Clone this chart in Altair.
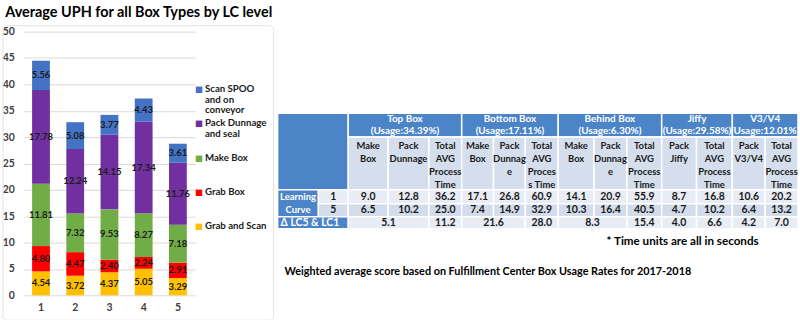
import altair as alt
import pandas as pd

# ---------------- data: stacked bars ----------------
levels = ["1", "2", "3", "4", "5"]
series = ["Grab and Scan", "Grab Box", "Make Box", "Pack Dunnage and seal", "Scan SPOO and on conveyor"]
grab_and_scan = [4.54, 3.72, 4.37, 5.05, 3.29]
grab_box = [4.80, 4.47, 2.40, 2.24, 2.91]
make_box = [11.81, 7.32, 9.53, 8.27, 7.18]
pack_dunnage = [17.78, 12.24, 14.15, 17.34, 11.76]
scan_spoo = [5.56, 5.08, 3.77, 4.43, 3.61]
series_values = [grab_and_scan, grab_box, make_box, pack_dunnage, scan_spoo]
series_colors = ["#FFC000", "#FF0000", "#70AD47", "#7030A0", "#4472C4"]
legend_lines = [["Grab and Scan"], ["Grab Box"], ["Make Box"],
                ["Pack Dunnage", "and seal"], ["Scan SPOO", "and on", "conveyor"]]
chart_title = "Average UPH for all Box Types by LC level"

# ---------------- data: table ----------------
box_types = ["Top Box", "Bottom Box", "Behind Box", "Jiffy", "V3/V4"]
usage = ["34.39%", "17.11%", "6.30%", "29.58%", "12.01%"]
sub_per_box = [3, 3, 3, 2, 2]
sub_headers = [["Make", "Box"], ["Pack", "Dunnage"], ["Total", "AVG", "Process", "Time"],
               ["Make", "Box"], ["Pack", "Dunnag", "e"], ["Total", "AVG", "Proces", "s Time"],
               ["Make", "Box"], ["Pack", "Dunnag", "e"], ["Total", "AVG", "Process", "Time"],
               ["Pack", "Jiffy"], ["Total", "AVG", "Process", "Time"],
               ["Pack", "V3/V4"], ["Total", "AVG", "Process", "Time"]]
row_label = ["Learning", "Curve"]
lc_levels = ["1", "5"]
lc1 = [9.0, 12.8, 36.2, 17.1, 26.8, 60.9, 14.1, 20.9, 55.9, 8.7, 16.8, 10.6, 20.2]
lc5 = [6.5, 10.2, 25.0, 7.4, 14.9, 32.9, 10.3, 16.4, 40.5, 4.7, 10.2, 6.4, 13.2]
delta_label = "Δ LC5 & LC1"
delta_values = ["5.1", "11.2", "21.6", "28.0", "8.3", "15.4", "4.0", "6.6", "4.2", "7.0"]
delta_spans = [2, 1, 2, 1, 2, 1, 1, 1, 1, 1]
note_units = "* Time units are all in seconds"
note_weighted = "Weighted average score based on Fulfillment Center Box Usage Rates for 2017-2018"

# ---------------- layout / style (not data) ----------------
FONT = "Lato"
BLUE = "#4C84C8"
HEAD_LIGHT = "#D5DEEC"
ROW_A = "#E8EDF5"
ROW_B = "#D3DCEA"
TXT = "#1A1A1A"
ORIGIN_Y = 30          # page y of the plot tops (both panels share it)
TABLE_X0 = 277
COL_EDGES = [277, 318, 348, 388, 429, 462, 494, 526, 559, 595, 628, 663, 698, 734, 767, 800]
ROW_EDGES = [112, 136, 189, 203, 216, 228]
W_R = 523
H_R = 290
HEAD_LH = 12.3
LC_LH = 13

# ---------------- bar chart ----------------
bar_rows = []
for rank, (name, vals) in enumerate(zip(series, series_values)):
    for lv, v in zip(levels, vals):
        bar_rows.append({"level": lv, "series": name, "value": v, "rank": rank})
bars_df = pd.DataFrame(bar_rows)

color_scale = alt.Scale(domain=series, range=series_colors)
x_enc = alt.X("level:N", sort=levels,
              scale=alt.Scale(paddingInner=0.48, paddingOuter=0.24),
              axis=alt.Axis(title=None, labelAngle=0, ticks=False, domain=False,
                            labelFont=FONT, labelFontSize=10.5, labelFontWeight="bold",
                            labelColor="#404040", labelPadding=7))
y_scale = alt.Scale(domain=[0, 50], nice=False)

bars = alt.Chart(bars_df).mark_bar().encode(
    x=x_enc,
    y=alt.Y("value:Q", stack="zero", scale=y_scale,
            axis=alt.Axis(title=None, values=list(range(0, 51, 5)), ticks=False, domain=False,
                          gridColor="#D9D9D9", labelFont=FONT, labelFontSize=10.5,
                          labelFontWeight="bold", labelColor="#404040", labelPadding=9.5)),
    color=alt.Color("series:N", scale=color_scale, legend=None),
    order=alt.Order("rank:Q"),
)

bar_labels = alt.Chart(bars_df).transform_stack(
    stack="value", groupby=["level"], sort=[alt.SortField("rank")], as_=["y0", "y1"]
).transform_calculate(mid="(datum.y0 + datum.y1) / 2").mark_text(
    font=FONT, fontSize=9.5, fontWeight="bold", color=TXT
).encode(
    x=alt.X("level:N", sort=levels),
    y=alt.Y("mid:Q", scale=y_scale, axis=None),
    text=alt.Text("value:Q", format=".2f"),
)

legend_rows = []
for rank, (name, lines) in enumerate(zip(series, legend_lines)):
    legend_rows.append({"series": name, "label": "\n".join(lines), "sym": "■", "rank": rank})
legend_df = pd.DataFrame(legend_rows)
legend_order = series[::-1]
# point scale places the first line of each legend entry
legend_y = alt.Y("series:N", scale=alt.Scale(type="point", domain=legend_order, range=[58, 195], padding=0),
                 axis=None)

legend_sym = alt.Chart(legend_df).mark_text(
    font="DejaVu Sans", fontSize=8.5, baseline="middle", align="center"
).encode(
    x=alt.value(176), y=legend_y,
    color=alt.Color("series:N", scale=color_scale, legend=None),
    text="sym:N",
)
legend_txt = alt.Chart(legend_df).mark_text(
    font=FONT, fontSize=9.7, fontWeight="bold", lineBreak="\n", lineHeight=10.6,
    baseline="middle", align="left", color=TXT
).encode(x=alt.value(182), y=legend_y, text="label:N")

frame = alt.Chart(pd.DataFrame({"k": [0]})).mark_rect(
    fill="transparent", stroke="#E3E3E3", strokeWidth=1, cornerRadius=4
).encode(x=alt.value(-21), x2=alt.value(251), y=alt.value(-6), y2=alt.value(290))

left = alt.layer(frame, bars, bar_labels, legend_sym, legend_txt).resolve_scale(
    y="independent"
).properties(
    width=172, height=265,
    title=alt.TitleParams(text=chart_title, anchor="start", frame="bounds", font=FONT, fontSize=14.5,
                          fontWeight="bold", color="black", dx=3, offset=5),
)

# ---------------- table ----------------
def cx(c0, c1):
    return (COL_EDGES[c0] + COL_EDGES[c1]) / 2 - TABLE_X0

def ry(r):
    return ROW_EDGES[r] - ORIGIN_Y

cells = []
def add_cell(c0, c1, r0, r1, fill):
    cells.append({"x0": COL_EDGES[c0] - TABLE_X0, "x1": COL_EDGES[c1] - TABLE_X0,
                  "y0": ry(r0), "y1": ry(r1), "fill": fill})

texts_head = []   # white bold, two lines (first-line position given)
texts_sub = []    # dark multi-line, top
texts_data = []   # single line, middle

add_cell(0, 2, 0, 2, BLUE)
c = 2
for name, u, n in zip(box_types, usage, sub_per_box):
    add_cell(c, c + n, 0, 1, BLUE)
    texts_head.append({"x": cx(c, c + n), "y": (ry(0) + ry(1)) / 2 - 0.5 - HEAD_LH / 2,
                       "t": name + "\n(Usage:" + u + ")"})
    c += n
for i, lines in enumerate(sub_headers):
    add_cell(2 + i, 3 + i, 1, 2, HEAD_LIGHT)
    texts_sub.append({"x": cx(2 + i, 3 + i), "y": ry(1) + 3.5, "t": "\n".join(lines)})

add_cell(0, 1, 2, 4, BLUE)
lc_label_df = pd.DataFrame([{"x": cx(0, 1), "y": (ry(2) + ry(4)) / 2 - LC_LH / 2,
                             "t": "\n".join(row_label)}])
for r, (lv, vals, fill) in enumerate(zip(lc_levels, [lc1, lc5], [ROW_A, ROW_B])):
    add_cell(1, 2, 2 + r, 3 + r, fill)
    texts_data.append({"x": cx(1, 2), "y": (ry(2 + r) + ry(3 + r)) / 2, "t": lv, "col": TXT})
    for i, v in enumerate(vals):
        add_cell(2 + i, 3 + i, 2 + r, 3 + r, fill)
        texts_data.append({"x": cx(2 + i, 3 + i), "y": (ry(2 + r) + ry(3 + r)) / 2,
                           "t": f"{v:.1f}", "col": TXT})

add_cell(0, 2, 4, 5, BLUE)
texts_data.append({"x": cx(0, 2) - 3, "y": (ry(4) + ry(5)) / 2, "t": delta_label, "col": "white"})
c = 2
for v, s in zip(delta_values, delta_spans):
    add_cell(c, c + s, 4, 5, ROW_A)
    texts_data.append({"x": cx(c, c + s), "y": (ry(4) + ry(5)) / 2, "t": v, "col": TXT})
    c += s

xs = alt.Scale(domain=[0, W_R], nice=False, zero=False)
ys = alt.Scale(domain=[0, H_R], nice=False, zero=False, reverse=True)
X = lambda f: alt.X(f, scale=xs, axis=None)
Y = lambda f: alt.Y(f, scale=ys, axis=None)

rects = alt.Chart(pd.DataFrame(cells)).mark_rect(stroke="white", strokeWidth=1.5).encode(
    x=X("x0:Q"), x2="x1:Q", y=Y("y0:Q"), y2="y1:Q", fill=alt.Fill("fill:N", scale=None))

head_txt = alt.Chart(pd.DataFrame(texts_head)).mark_text(
    font=FONT, fontWeight="bold", fontSize=10, lineBreak="\n", lineHeight=HEAD_LH,
    baseline="middle", align="center", color="white"
).encode(x=X("x:Q"), y=Y("y:Q"), text="t:N")

lc_txt = alt.Chart(lc_label_df).mark_text(
    font=FONT, fontWeight="bold", fontSize=9.5, lineBreak="\n", lineHeight=LC_LH,
    baseline="middle", align="center", color="white"
).encode(x=X("x:Q"), y=Y("y:Q"), text="t:N")

sub_txt = alt.Chart(pd.DataFrame(texts_sub)).mark_text(
    font=FONT, fontWeight="bold", fontSize=9.5, lineBreak="\n", lineHeight=13.3, baseline="top",
    align="center", color=TXT
).encode(x=X("x:Q"), y=Y("y:Q"), text="t:N")

data_txt = alt.Chart(pd.DataFrame(texts_data)).mark_text(
    font=FONT, fontWeight="bold", fontSize=10.5, baseline="middle", align="center"
).encode(x=X("x:Q"), y=Y("y:Q"), text="t:N", color=alt.Color("col:N", scale=None))

notes_df = pd.DataFrame([
    {"x": 407, "y": 240 - ORIGIN_Y, "t": note_units, "fs": 11.7, "al": "c"},
    {"x": 7, "y": 272 - ORIGIN_Y, "t": note_weighted, "fs": 10.9, "al": "l"},
])
note1 = alt.Chart(notes_df).transform_filter("datum.al == 'c'").mark_text(
    font=FONT, fontWeight="bold", align="center", baseline="middle", color="black"
).encode(x=X("x:Q"), y=Y("y:Q"), text="t:N", size=alt.Size("fs:Q", scale=None))
note2 = alt.Chart(notes_df).transform_filter("datum.al == 'l'").mark_text(
    font=FONT, fontWeight="bold", align="left", baseline="middle", color="black"
).encode(x=X("x:Q"), y=Y("y:Q"), text="t:N", size=alt.Size("fs:Q", scale=None))

right = alt.layer(rects, head_txt, lc_txt, sub_txt, data_txt, note1, note2).properties(width=W_R, height=H_R)

chart = alt.hconcat(left, right, spacing=2).properties(
    padding={"left": 2, "top": 4, "right": 0, "bottom": 0},
    background="white",
).configure_view(stroke=None)

chart.save("out.html", embed_options={"renderer": "svg", "actions": False})
